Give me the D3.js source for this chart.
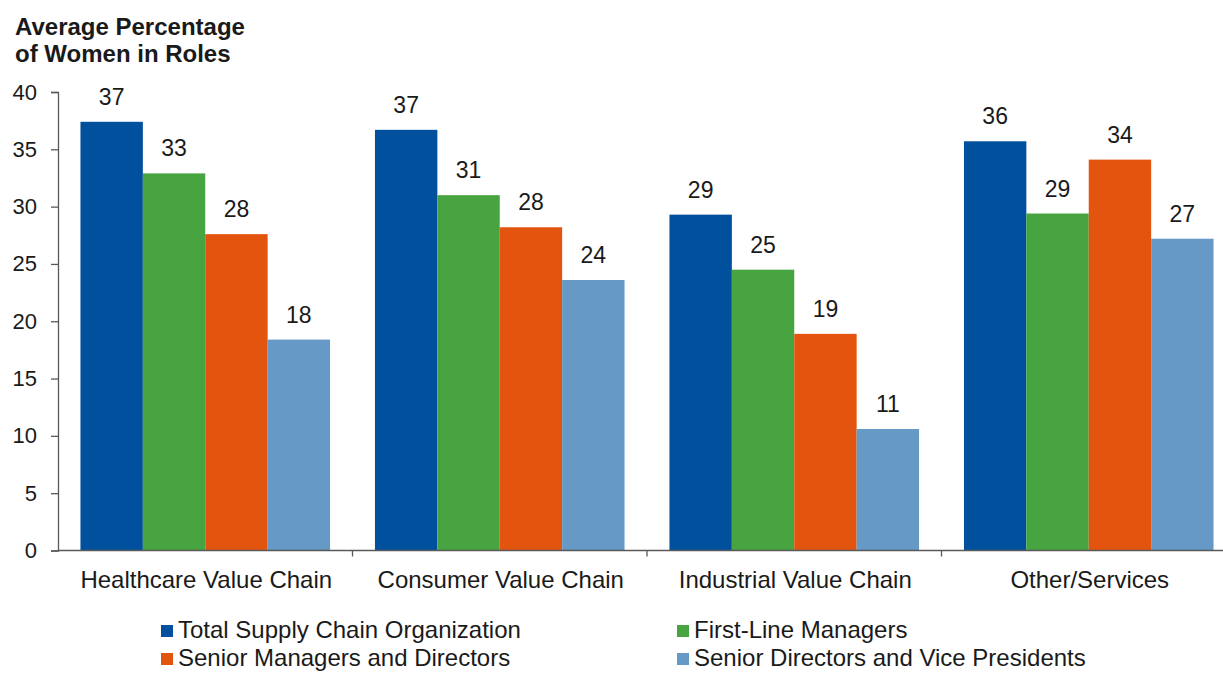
<!DOCTYPE html>
<html>
<head>
<meta charset="utf-8">
<script src="https://cdn.jsdelivr.net/npm/d3@7/dist/d3.min.js"></script>
<style>
  html, body { margin: 0; padding: 0; background: #fff; }
  svg { display: block; font-family: "Liberation Sans", Arial, sans-serif; }
</style>
</head>
<body>
<svg id="chart" width="1223" height="673"></svg>
<script>
const categories = ["Healthcare Value Chain", "Consumer Value Chain", "Industrial Value Chain", "Other/Services"];
const seriesNames = ["Total Supply Chain Organization", "First-Line Managers", "Senior Managers and Directors", "Senior Directors and Vice Presidents"];
const totalSupplyChain = [37.4, 36.7, 29.3, 35.7];
const firstLineManagers = [32.9, 31.0, 24.5, 29.4];
const seniorManagersDirectors = [27.6, 28.2, 18.9, 34.1];
const seniorDirectorsVPs = [18.4, 23.6, 10.6, 27.2];
const yTicks = [0, 5, 10, 15, 20, 25, 30, 35, 40];
const seriesColors = ["#00509E", "#48A441", "#E3550F", "#6699C5"];
const titleLines = ["Average Percentage", "of Women in Roles"];

const seriesValues = [totalSupplyChain, firstLineManagers, seniorManagersDirectors, seniorDirectorsVPs];

const svg = d3.select("#chart");
const axisColor = "#595959";
const textColor = "#1a1a1a";

const x0 = d3.scaleBand().domain(categories).range([58, 1236]).paddingInner(0).paddingOuter(0);
const x1 = d3.scaleBand().domain(d3.range(seriesNames.length)).range([0, x0.bandwidth()]).paddingInner(0).paddingOuter(0.36);
const y = d3.scaleLinear().domain([0, 40]).range([550.5, 92]);

// bars
const groups = svg.append("g").selectAll("g").data(categories).join("g")
  .attr("transform", d => `translate(${x0(d)},0)`);

groups.each(function(cat, ci) {
  const g = d3.select(this);
  const data = seriesValues.map((vals, si) => ({ si, v: vals[ci] }));
  g.selectAll("rect").data(data).join("rect")
    .attr("x", d => x1(d.si))
    .attr("width", x1.bandwidth())
    .attr("y", d => y(d.v))
    .attr("height", d => y(0) - y(d.v))
    .attr("fill", d => seriesColors[d.si]);
  g.selectAll("text.lbl").data(data).join("text")
    .attr("class", "lbl")
    .attr("x", d => x1(d.si) + x1.bandwidth() / 2)
    .attr("y", d => y(d.v) - 17)
    .attr("text-anchor", "middle")
    .attr("font-size", 23)
    .attr("fill", textColor)
    .text(d => Math.round(d.v));
});

// y axis
const yAxis = svg.append("g").attr("transform", "translate(58,0)")
  .call(d3.axisLeft(y).tickValues(yTicks).tickSize(7).tickPadding(14));
yAxis.select(".domain").attr("stroke", axisColor).attr("stroke-width", 1.3);
yAxis.selectAll(".tick line").attr("stroke", axisColor).attr("stroke-width", 1.3);
yAxis.selectAll(".tick text").attr("font-size", 22).attr("fill", textColor)
  .attr("font-family", "Liberation Sans, Arial, sans-serif");

// x axis line
svg.append("line").attr("x1", 58).attr("x2", 1223).attr("y1", y(0)).attr("y2", y(0))
  .attr("stroke", axisColor).attr("stroke-width", 1.3);
svg.append("g").selectAll("line").data(categories.slice(1)).join("line")
  .attr("x1", d => x0(d)).attr("x2", d => x0(d))
  .attr("y1", y(0)).attr("y2", y(0) + 6)
  .attr("stroke", axisColor).attr("stroke-width", 1.3);

// category labels
svg.append("g").selectAll("text").data(categories).join("text")
  .attr("x", d => x0(d) + x0.bandwidth() / 2 + 1)
  .attr("y", 588)
  .attr("text-anchor", "middle")
  .attr("font-size", 24)
  .attr("fill", textColor)
  .text(d => d);

// title
svg.append("text").attr("x", 15).attr("y", 35)
  .attr("font-size", 24).attr("font-weight", "bold").attr("fill", textColor)
  .selectAll("tspan").data(titleLines).join("tspan")
  .attr("x", 15).attr("dy", (d, i) => i === 0 ? 0 : 27)
  .text(d => d);

// legend
const legendPos = [[161, 630], [677, 630], [161, 658], [677, 658]];
const legend = svg.append("g").selectAll("g").data(seriesNames).join("g")
  .attr("transform", (d, i) => `translate(${legendPos[i][0]},${legendPos[i][1]})`);
legend.append("rect").attr("x", 0).attr("y", -5).attr("width", 12).attr("height", 12)
  .attr("fill", (d, i) => seriesColors[i]);
legend.append("text").attr("x", 17).attr("y", 8)
  .attr("font-size", 24).attr("fill", textColor)
  .text(d => d);
</script>
</body>
</html>
